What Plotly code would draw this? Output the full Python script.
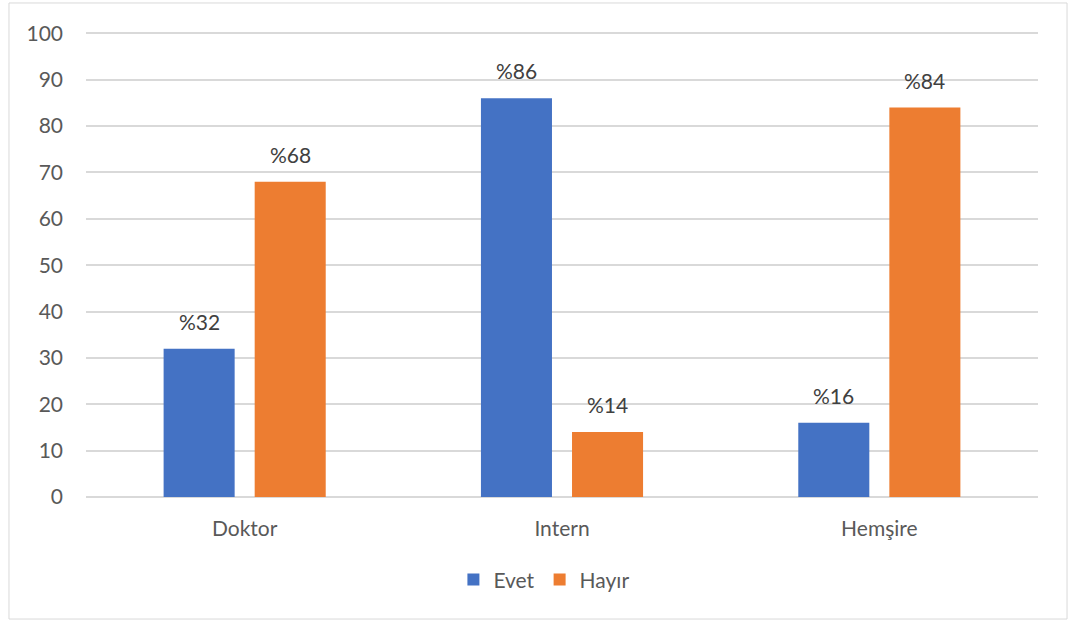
import plotly.graph_objects as go

categories = ["Doktor", "Intern", "Hemşire"]
evet = [32, 86, 16]
hayir = [68, 14, 84]
y_ticks = list(range(0, 101, 10))

BLUE = "#4472C4"
ORANGE = "#ED7D31"
GRID = "#D9D9D9"
FONT = "Lato, 'Open Sans', sans-serif"
SIZE = 21

fig = go.Figure()
fig.add_trace(go.Bar(name="Evet", x=categories, y=evet, marker_color=BLUE,
                     marker_line_width=0, offsetgroup="evet"))
fig.add_trace(go.Bar(name="Hayır", x=categories, y=hayir, marker_color=ORANGE,
                     marker_line_width=0, offsetgroup="hayir"))

# value labels above each bar
annotations = []
for i, cat in enumerate(categories):
    for val, shift in ((evet[i], -0.143), (hayir[i], 0.143)):
        annotations.append(dict(
            x=i + shift, y=val, xref="x", yref="y", text=f"%{val}",
            showarrow=False, yanchor="bottom", yshift=13,
            font=dict(family=FONT, size=SIZE, color="#404040")))

fig.update_layout(
    width=1068, height=621,
    margin=dict(l=86, r=30, t=32, b=124),
    paper_bgcolor="white", plot_bgcolor="white",
    barmode="group", bargap=0.426, bargroupgap=0.22,
    font=dict(family=FONT, size=SIZE, color="#595959"),
    showlegend=True,
    legend=dict(orientation="h", x=0.481, y=-0.178, xanchor="center", yanchor="middle",
                font=dict(family=FONT, size=SIZE, color="#595959"),
                itemwidth=30, tracegroupgap=0, traceorder="normal"),
    annotations=annotations,
    shapes=[dict(type="rect", xref="paper", yref="paper",
                 x0=-0.0809, x1=1.0305, y0=-0.2624, y1=1.0624,
                 line=dict(color=GRID, width=1), fillcolor="rgba(0,0,0,0)")],
)
fig.update_xaxes(type="category", showgrid=False, showline=False, ticks="",
                 ticklabelstandoff=17, tickfont=dict(size=SIZE, color="#595959"))
fig.update_yaxes(range=[0, 100.3], tickvals=y_ticks, showgrid=True, gridcolor=GRID,
                 gridwidth=1.5, zeroline=True, zerolinecolor=GRID, zerolinewidth=1.5,
                 showline=False, ticks="", ticklabelstandoff=22,
                 tickfont=dict(size=SIZE, color="#595959"))

fig.write_html("out.html")
